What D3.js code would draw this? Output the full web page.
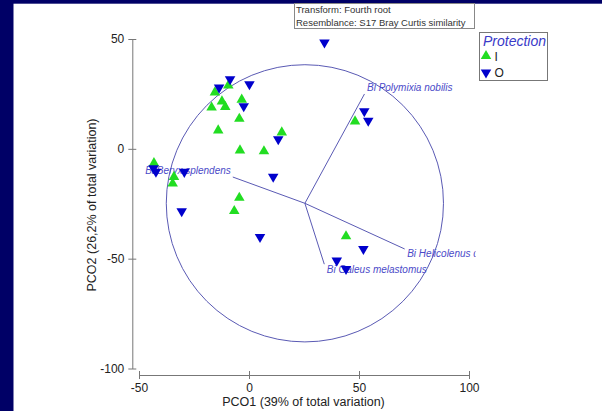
<!DOCTYPE html>
<html>
<head>
<meta charset="utf-8">
<script src="https://cdn.jsdelivr.net/npm/d3@7"></script>
<style>
  html, body { margin: 0; padding: 0; background: #000066; }
  svg { display: block; }
  text { font-family: "Liberation Sans", Arial, sans-serif; }
</style>
</head>
<body>
<svg id="chart" width="602" height="411"></svg>
<script>
// PCO ordination scores, grouped by protection level
const protectionI = [
  [-15.5, 25.7], [-9.4, 28.8], [-17.0, 18.8], [-12.3, 21.6], [-10.8, 19.1],
  [-3.3, 22.4], [-4.4, 13.7], [-14.0, 8.4], [14.9, 7.5], [-4.1, -0.7],
  [6.8, -1.1], [-43.2, -6.5], [-34.1, -12.8], [-34.7, -15.8], [-4.4, -22.3],
  [-6.7, -28.3], [48.2, 12.5], [44.1, -39.8]
];
const protectionO = [
  [34.3, 48.4], [-8.6, 31.7], [-13.6, 27.9], [0.2, 29.4], [-2.4, 19.4],
  [52.4, 17.1], [54.2, 12.8], [13.3, 4.4], [-43.4, -8.8], [-42.3, -10.4],
  [-29.4, -10.5], [11.0, -12.7], [-30.6, -28.4], [5.0, -40.1], [52.0, -45.6],
  [39.9, -50.9], [44.1, -54.7]
];

// Species vectors (correlations with PCO1 / PCO2)
const vectorNames = ["Bi Polymixia nobilis", "Bi Beryx splendens", "Bi Helicolenus dactylopterus", "Bi Galeus melastomus"];
const vectorX = [0.43, -0.52, 0.72, 0.14];
const vectorY = [0.79, 0.19, -0.33, -0.44];
const circleCenter = [25.4, -24.8];
const circleRadius = 63;

const xTicks = [-50, 0, 50, 100];
const yTicks = [50, 0, -50, -100];
const xTitle = "PCO1 (39% of total variation)";
const yTitle = "PCO2 (26,2% of total variation)";
const infoLines = ["Transform: Fourth root", "Resemblance: S17 Bray Curtis similarity"];
const legendTitle = "Protection";
const legendItems = ["I", "O"];

const svg = d3.select("#chart");

// white slide panel
svg.append("rect").attr("x", 13.5).attr("y", 3.7).attr("width", 602 - 13.5).attr("height", 411 - 3.7).attr("fill", "#fff");

const x = d3.scaleLinear().domain([-50, 100]).range([139, 469]);
const y = d3.scaleLinear().domain([-100, 50]).range([368.5, 39]);

const axisColor = "#777";
const vecColor = "#5a5ab4";
const plainNum = d => String(d);

// y axis
const yAxisG = svg.append("g").attr("transform", "translate(132.3,0)")
  .call(d3.axisLeft(y).tickValues(yTicks).tickSizeInner(4).tickSizeOuter(0).tickPadding(4).tickFormat(plainNum));
// x axis
const xAxisG = svg.append("g").attr("transform", "translate(0,375)")
  .call(d3.axisBottom(x).tickValues(xTicks).tickSizeInner(4).tickSizeOuter(0).tickPadding(4).tickFormat(plainNum));

[yAxisG, xAxisG].forEach(g => {
  g.select(".domain").attr("stroke", axisColor);
  g.selectAll(".tick line").attr("stroke", axisColor);
  g.selectAll(".tick text").attr("fill", "#222").style("font-size", "12px")
    .style("font-family", '"Liberation Sans", Arial, sans-serif');
});
// ticks cross the axis line
yAxisG.selectAll(".tick line").attr("x1", 4);
xAxisG.selectAll(".tick line").attr("y1", -4);

// axis titles
svg.append("text").attr("x", 303.5).attr("y", 406).attr("text-anchor", "middle")
  .attr("fill", "#222").style("font-size", "12.5px").text(xTitle);
svg.append("text").attr("transform", "translate(95.5,205) rotate(-90)").attr("text-anchor", "middle")
  .attr("fill", "#222").style("font-size", "12.5px").text(yTitle);

// vector overlay
const cx = x(circleCenter[0]), cy = y(circleCenter[1]);
const rPx = x(circleRadius) - x(0);
svg.append("circle").attr("cx", cx).attr("cy", cy).attr("r", rPx)
  .attr("fill", "none").attr("stroke", vecColor).attr("stroke-width", 1);

const vectors = vectorNames.map((n, i) => ({
  name: n,
  ex: x(circleCenter[0] + vectorX[i] * circleRadius),
  ey: y(circleCenter[1] + vectorY[i] * circleRadius),
  dx: vectorX[i], dy: vectorY[i]
}));

svg.selectAll("line.vec").data(vectors).join("line").attr("class", "vec")
  .attr("x1", cx).attr("y1", cy).attr("x2", d => d.ex).attr("y2", d => d.ey)
  .attr("stroke", vecColor).attr("stroke-width", 1);

svg.append("clipPath").attr("id", "plotClip").append("rect")
  .attr("x", 0).attr("y", 0).attr("width", x(103)).attr("height", 411);

svg.append("g").attr("clip-path", "url(#plotClip)")
  .selectAll("text").data(vectors).join("text")
  .attr("x", d => d.ex + (d.dx >= 0 ? 2.5 : -2))
  .attr("y", d => d.ey + (d.dy >= 0 ? -3 : 8.5))
  .attr("text-anchor", d => d.dx >= 0 ? "start" : "end")
  .attr("fill", "#4a4ac8").style("font-size", "10px").style("font-style", "italic")
  .text(d => d.name);

// sample markers
const up = d3.symbol().type(d3.symbolTriangle).size(48);
const green = "#22dd22", blue = "#0000cc";

svg.append("g").selectAll("path").data(protectionI).join("path")
  .attr("d", up).attr("transform", d => `translate(${x(d[0])},${y(d[1])})`).attr("fill", green);
svg.append("g").selectAll("path").data(protectionO).join("path")
  .attr("d", up).attr("transform", d => `translate(${x(d[0])},${y(d[1])}) rotate(180)`).attr("fill", blue);

// info box
const info = svg.append("g");
info.append("rect").attr("x", 294.5).attr("y", 3.5).attr("width", 180).attr("height", 25)
  .attr("fill", "#fff").attr("stroke", "#888").attr("stroke-width", 1);
info.selectAll("text").data(infoLines).join("text")
  .attr("x", 296).attr("y", (d, i) => 12.5 + i * 13)
  .attr("fill", "#333").style("font-size", "9.5px").text(d => d);

// legend
const leg = svg.append("g");
leg.append("rect").attr("x", 479.5).attr("y", 32.5).attr("width", 68).attr("height", 48)
  .attr("fill", "#fff").attr("stroke", "#777").attr("stroke-width", 1);
leg.append("text").attr("x", 483).attr("y", 45.5).attr("fill", "#3a3ac8")
  .style("font-size", "14px").style("font-style", "italic").text(legendTitle);
const legColors = [green, blue];
legendItems.forEach((lab, i) => {
  const ly = 56 + i * 16.5;
  leg.append("path").attr("d", up)
    .attr("transform", `translate(486,${ly}) ${i === 1 ? "rotate(180)" : ""}`)
    .attr("fill", legColors[i]);
  leg.append("text").attr("x", 494.5).attr("y", ly + 4.5).attr("fill", "#222")
    .style("font-size", "12px").text(lab);
});
</script>
</body>
</html>
